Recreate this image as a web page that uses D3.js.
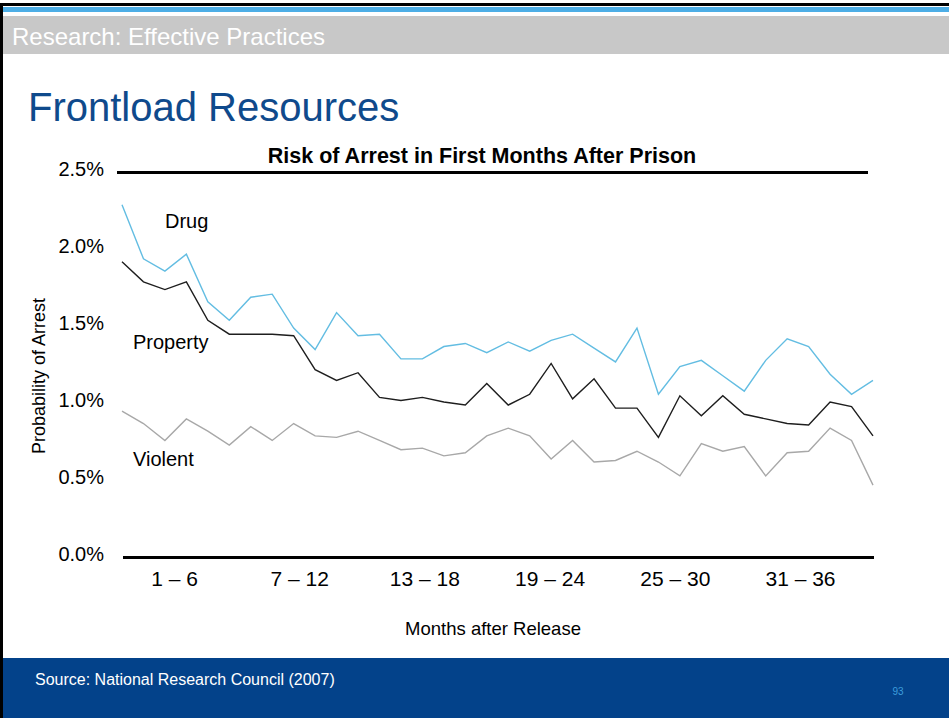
<!DOCTYPE html>
<html>
<head>
<meta charset="utf-8">
<script src="https://cdn.jsdelivr.net/npm/d3@7"></script>
<style>
  html, body { margin: 0; padding: 0; background: #fff; }
  svg { display: block; font-family: Arial, "Liberation Sans", sans-serif; }
</style>
</head>
<body>
<svg id="slide" width="949" height="718"></svg>
<script>
// Months after release (1..36)
const months = d3.range(1, 37);

// Probability of arrest (%) in each month after release, by offense type
const drug = [2.29, 1.94, 1.86, 1.97, 1.66, 1.54, 1.69, 1.71, 1.49, 1.35, 1.59, 1.44,
              1.45, 1.29, 1.29, 1.37, 1.39, 1.33, 1.40, 1.34, 1.41, 1.45, 1.36, 1.27,
              1.49, 1.06, 1.24, 1.28, 1.18, 1.08, 1.28, 1.42, 1.37, 1.19, 1.06, 1.15];
const property = [1.92, 1.79, 1.74, 1.79, 1.54, 1.45, 1.45, 1.45, 1.44, 1.22, 1.15, 1.20,
                  1.04, 1.02, 1.04, 1.01, 0.99, 1.13, 0.99, 1.06, 1.26, 1.03, 1.16, 0.97,
                  0.97, 0.78, 1.05, 0.92, 1.05, 0.93, 0.90, 0.87, 0.86, 1.01, 0.98, 0.79];
const violent = [0.95, 0.87, 0.76, 0.90, 0.82, 0.73, 0.85, 0.76, 0.87, 0.79, 0.78, 0.82,
                 0.76, 0.70, 0.71, 0.66, 0.68, 0.79, 0.84, 0.79, 0.64, 0.76, 0.62, 0.63,
                 0.69, 0.62, 0.53, 0.74, 0.69, 0.72, 0.53, 0.68, 0.69, 0.84, 0.76, 0.47];

const seriesNames = ["Drug", "Property", "Violent"];
const seriesColors = ["#63bde2", "#1e1e1e", "#a8a8a8"];

const yTicks = [0, 0.5, 1.0, 1.5, 2.0, 2.5];
const xGroupLabels = ["1 \u2013 6", "7 \u2013 12", "13 \u2013 18", "19 \u2013 24", "25 \u2013 30", "31 \u2013 36"];

const svg = d3.select("#slide");
const W = 949, H = 718;

// ---- slide chrome ----
svg.append("rect").attr("x", 0).attr("y", 0).attr("width", W).attr("height", H).attr("fill", "#fff");
svg.append("rect").attr("x", 0).attr("y", 7).attr("width", W).attr("height", 5).attr("fill", "#4daee6");
svg.append("rect").attr("x", 0).attr("y", 16).attr("width", W).attr("height", 38).attr("fill", "#c8c8c8");
svg.append("text").attr("x", 12).attr("y", 45)
  .attr("font-size", 24).attr("fill", "#ffffff")
  .text("Research: Effective Practices");

svg.append("text").attr("x", 28).attr("y", 121)
  .attr("font-size", 40).attr("fill", "#0f4a8c")
  .text("Frontload Resources");

// footer band
svg.append("rect").attr("x", 0).attr("y", 658).attr("width", W).attr("height", H - 658).attr("fill", "#03428a");
svg.append("text").attr("x", 35).attr("y", 685)
  .attr("font-size", 16).attr("fill", "#ffffff")
  .text("Source: National Research Council (2007)");
svg.append("text").attr("x", 898).attr("y", 695).attr("text-anchor", "middle")
  .attr("font-size", 10).attr("fill", "#3d9ddc")
  .text("93");

// frame on the top and left edges
svg.append("rect").attr("x", 0).attr("y", 3).attr("width", W).attr("height", 3).attr("fill", "#000");
svg.append("rect").attr("x", 0).attr("y", 3).attr("width", 3).attr("height", H - 3).attr("fill", "#000");

// ---- chart ----
const x = d3.scaleLinear().domain([1, 36]).range([122, 873]);
const y = d3.scaleLinear().domain([0, 2.5]).range([557.5, 172.5]);

svg.append("text").attr("x", 482).attr("y", 163).attr("text-anchor", "middle")
  .attr("font-size", 21.5).attr("font-weight", "bold").attr("fill", "#000")
  .text("Risk of Arrest in First Months After Prison");

// heavy rules at the top and bottom of the value range
svg.append("line").attr("x1", 117).attr("x2", 868)
  .attr("y1", y(2.5)).attr("y2", y(2.5)).attr("stroke", "#000").attr("stroke-width", 3);
svg.append("line").attr("x1", 123).attr("x2", 874)
  .attr("y1", y(0)).attr("y2", y(0)).attr("stroke", "#000").attr("stroke-width", 3);

// y axis labels
const yAxis = d3.axisLeft(y).tickValues(yTicks).tickSize(0).tickPadding(0)
  .tickFormat(d => d.toFixed(1) + "%");
const yg = svg.append("g").attr("transform", "translate(104,-3)").call(yAxis);
yg.select(".domain").remove();
yg.selectAll("text").attr("font-size", 20).attr("fill", "#000")
  .attr("font-family", "Arial, 'Liberation Sans', sans-serif");

// x group labels
const xg = d3.scalePoint().domain(xGroupLabels).range([174, 800]);
const xAxis = d3.axisBottom(xg).tickSize(0).tickPadding(0);
const xgG = svg.append("g").attr("transform", "translate(0,571)").call(xAxis);
xgG.select(".domain").remove();
xgG.selectAll("text").attr("font-size", 21).attr("fill", "#000")
  .attr("font-family", "Arial, 'Liberation Sans', sans-serif");

// axis titles
svg.append("text").attr("x", 493).attr("y", 635).attr("text-anchor", "middle")
  .attr("font-size", 18.5).attr("fill", "#000").text("Months after Release");
svg.append("text").attr("transform", "translate(45,376) rotate(-90)").attr("text-anchor", "middle")
  .attr("font-size", 18).attr("fill", "#000").text("Probability of Arrest");

// series lines
const seriesData = [drug, property, violent];
const line = d3.line().x((d, i) => x(months[i])).y(d => y(d));
svg.append("g").selectAll("path").data(seriesData).join("path")
  .attr("d", d => line(d))
  .attr("fill", "none")
  .attr("stroke", (d, i) => seriesColors[i])
  .attr("stroke-width", 1.4)
  .attr("stroke-linejoin", "miter");

// series labels
const labelPos = [[165, 228], [133, 349], [133, 466]];
svg.append("g").selectAll("text").data(seriesNames).join("text")
  .attr("x", (d, i) => labelPos[i][0])
  .attr("y", (d, i) => labelPos[i][1])
  .attr("font-size", 20).attr("fill", "#000")
  .text(d => d);
</script>
</body>
</html>
